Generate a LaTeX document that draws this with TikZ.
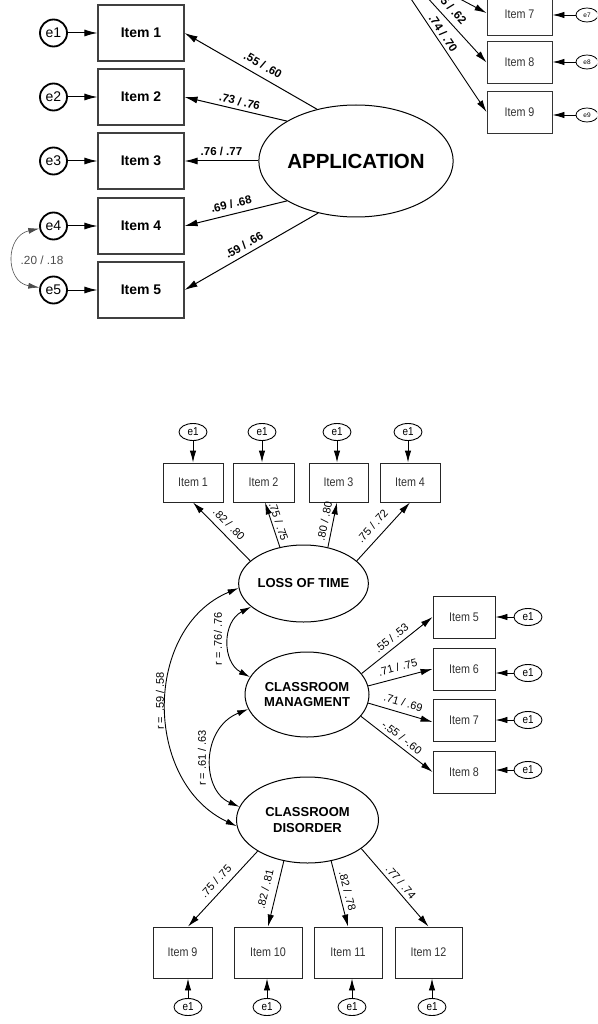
\documentclass[tikz,border=0pt]{standalone}
\usepackage{fontspec}
\setmainfont{Liberation Sans}
\newfontfamily\narrowsans[FakeStretch=0.86]{Liberation Sans}
\usetikzlibrary{arrows.meta,shapes.geometric}
\begin{document}
\begin{tikzpicture}[x=1pt,y=-1pt,
  topbox/.style={draw=black!75,line width=1.1pt,minimum width=86pt,minimum height=56pt,inner sep=0pt,font=\fontsize{14}{16}\selectfont\bfseries},
  tope/.style={draw=black,circle,line width=1.8pt,minimum size=27pt,inner sep=0pt,font=\fontsize{14}{16}\selectfont},
  toparr/.style={-{Latex[length=13pt,width=7pt]},line width=1pt},
  toplab/.style={font=\fontsize{11.5}{13}\selectfont\bfseries,inner sep=1pt,sloped},
  bigellipse/.style={draw,ellipse,line width=1pt,inner sep=0pt,minimum width=168pt,minimum height=112pt,font=\fontsize{20.5}{24}\selectfont\bfseries},
  rbox/.style={draw=black!80,line width=0.9pt,minimum width=65pt,minimum height=42pt,inner sep=0pt,text=black!80,font=\narrowsans\fontsize{12.5}{14}\selectfont},
  tinye/.style={draw,ellipse,line width=0.8pt,minimum width=22pt,minimum height=14pt,inner sep=0pt,font=\fontsize{6.5}{7}\selectfont},
  smarr/.style={-{Latex[length=12pt,width=6.5pt]},line width=0.9pt},
  ibox/.style={draw=black!85,line width=0.9pt,inner sep=0pt,text=black!80,font=\narrowsans\fontsize{12.5}{14}\selectfont},
  erre/.style={draw,ellipse,line width=0.9pt,minimum width=28pt,minimum height=17pt,inner sep=0pt,font=\narrowsans\fontsize{11.5}{13}\selectfont},
  latent/.style={draw,ellipse,line width=1pt,inner sep=0pt,align=center,font=\fontsize{13}{15.5}\selectfont\bfseries},
  lab/.style={font=\fontsize{11}{12}\selectfont,inner sep=1pt,sloped},
  cov/.style={{Latex[length=11pt,width=6pt]}-{Latex[length=11pt,width=6pt]},line width=0.9pt},
  covtop/.style={{Latex[length=11pt,width=6pt]}-{Latex[length=11pt,width=6pt]},line width=0.6pt,draw=black!70},
  covlab/.style={font=\fontsize{11}{12}\selectfont,inner sep=0pt,rotate=90},
]
\useasboundingbox (0,0) rectangle (597,1024);
\clip (0,0) rectangle (597,1024);

% ---------------- top-left : APPLICATION ----------------
\node[topbox] (ta1) at (141,33) {Item 1};
\node[topbox] (ta2) at (141,97) {Item 2};
\node[topbox] (ta3) at (141,161) {Item 3};
\node[topbox] (ta4) at (141,226) {Item 4};
\node[topbox] (ta5) at (141,290) {Item 5};
\node[tope] (ea1) at (53.5,33) {e1};
\node[tope] (ea2) at (53.5,97) {e2};
\node[tope] (ea3) at (53.5,161) {e3};
\node[tope] (ea4) at (53.5,226) {e4};
\node[tope] (ea5) at (53.5,290) {e5};
\foreach \k in {1,...,5} {\draw[toparr] (ea\k) -- (ta\k);}
\draw[covtop] (ea4.190) .. controls (5,236) and (5,282) .. (ea5.170);
\node[font=\fontsize{11.8}{13}\selectfont,text=black!70,inner sep=0pt] (c45) at (42,260) {.20 / .18};

\node[bigellipse] (app) at (356,161) {APPLICATION};
\draw[toparr] (app.127) -- node[toplab,pos=0.45,above=5.5pt] (la1) {.55 / .60} (ta1.east);
\draw[toparr] (app.150) -- node[toplab,pos=0.48,above=2.5pt] (la2) {.73 / .76} (ta2.east);
\draw[toparr] (app.west) -- node[toplab,pos=0.5,above=4pt] (la3) {.76 / .77} (ta3.east);
\draw[toparr] (app.210) -- node[toplab,pos=0.52,above=4.5pt] (la4) {.69 / .68} (ta4.east);
\draw[toparr] (app.234) -- node[toplab,pos=0.52,above=3.5pt] (la5) {.59 / .66} (ta5.east);

% ---------------- top-right fragment ----------------
\node[rbox] (ta7) at (519.5,14) {Item 7};
\node[rbox] (ta8) at (519.5,62.5) {Item 8};
\node[rbox] (ta9) at (519.5,112) {Item 9};
\node[tinye] (ea7) at (587,15) {e7};
\node[tinye] (ea8) at (587,62) {e8};
\node[tinye] (ea9) at (587,115) {e9};
\draw[smarr] (ea7.west) -- (ea7.west -| ta7.east);
\draw[smarr] (ea8.west) -- (ea8.west -| ta8.east);
\draw[smarr] (ea9.west) -- (ea9.west -| ta9.east);
\coordinate (s7) at (424,-20);
\coordinate (s8) at (393,-40);
\coordinate (s9) at (385,-40);
\draw[smarr] (s7) -- ([yshift=1pt]ta7.west);
\draw[smarr] (s8) -- node[toplab,pos=0.53,above=5pt] (la8) {.65 / .62} (ta8.west);
\draw[smarr] (s9) -- node[toplab,pos=0.51,above=2pt] (la9) {.74 / .70} (ta9.west);

% ---------------- bottom model ----------------
\node[latent,minimum width=119pt,minimum height=77pt] (lot) at (303.5,583.5) {LOSS OF TIME};
\node[latent,minimum width=124pt,minimum height=85pt] (cm) at (307,694.5) {CLASSROOM\\MANAGMENT};
\node[latent,minimum width=142pt,minimum height=86pt] (cd) at (307.5,820) {CLASSROOM\\DISORDER};

% items 1-4
\node[ibox,minimum width=60pt,minimum height=39pt] (tb1) at (193,482.5) {Item 1};
\node[ibox,minimum width=61pt,minimum height=39pt] (tb2) at (263.5,482.5) {Item 2};
\node[ibox,minimum width=59pt,minimum height=39pt] (tb3) at (338.5,482.5) {Item 3};
\node[ibox,minimum width=60pt,minimum height=39pt] (tb4) at (410,482.5) {Item 4};
\node[erre] (eb1) at (193,432) {e1};
\node[erre] (eb2) at (262,432) {e1};
\node[erre] (eb3) at (337,432) {e1};
\node[erre] (eb4) at (408,432) {e1};
\foreach \k in {1,...,4} {\draw[smarr] (eb\k.south) -- (eb\k.south |- tb\k.north);}
\draw[smarr] (lot.157) -- node[lab,pos=0.5,above=5pt] (lb1) {.82 / .80} (tb1.south);
\draw[smarr] (lot.123) -- node[lab,pos=0.52,above=1.5pt] (lb2) {.75 / .75} ([xshift=1.5pt]tb2.south);
\draw[smarr] (lot.56) -- node[lab,pos=0.55,above=3pt] (lb3) {.80 / .80} ([xshift=-1.5pt]tb3.south);
\draw[smarr] (lot.23) -- node[lab,pos=0.46,above=6.5pt] (lb4) {.75 / .72} (tb4.south);

% items 5-8
\node[ibox,minimum width=62pt,minimum height=42pt] (tb5) at (464,617) {Item 5};
\node[ibox,minimum width=62pt,minimum height=42pt] (tb6) at (464,669) {Item 6};
\node[ibox,minimum width=62pt,minimum height=42pt] (tb7) at (464,720.5) {Item 7};
\node[ibox,minimum width=62pt,minimum height=42pt] (tb8) at (464,772) {Item 8};
\node[erre] (eb5) at (528,617) {e1};
\node[erre] (eb6) at (528,673) {e1};
\node[erre] (eb7) at (528,720) {e1};
\node[erre] (eb8) at (528,770) {e1};
\foreach \k in {5,...,8} {\draw[smarr] (eb\k.west) -- (eb\k.west -| tb\k.east);}
\draw[smarr] (cm.21) -- node[lab,pos=0.5,above=3.5pt] (lb5) {.55 / .53} (tb5.west);
\draw[smarr] (cm.8) -- node[lab,pos=0.5,above=5pt] (lb6) {.71 / .75} (tb6.west);
\draw[smarr] (cm.-8) -- node[lab,pos=0.5,above=5pt] (lb7) {.71 / .69} ([yshift=-1.5pt]tb7.west);
\draw[smarr] (cm.-22) -- node[lab,pos=0.5,above=3pt] (lb8) {-.55 / -.60} (tb8.west);

% items 9-12
\node[ibox,minimum width=59pt,minimum height=51pt] (tb9) at (182.5,952.5) {Item 9};
\node[ibox,minimum width=68pt,minimum height=51pt] (tb10) at (268,952.5) {Item 10};
\node[ibox,minimum width=68pt,minimum height=51pt] (tb11) at (348,952.5) {Item 11};
\node[ibox,minimum width=67pt,minimum height=51pt] (tb12) at (428.5,952.5) {Item 12};
\node[erre] (eb9) at (188,1007) {e1};
\node[erre] (eb10) at (267,1007) {e1};
\node[erre] (eb11) at (352,1007) {e1};
\node[erre] (eb12) at (432,1007) {e1};
\foreach \k in {9,...,12} {\draw[smarr] (eb\k.north) -- (eb\k.north |- tb\k.south);}
\draw[smarr] (cd.212.6) -- node[lab,pos=0.49,above=5pt] (lb9) {.75 / .75} ([xshift=5.5pt]tb9.north);
\draw[smarr] (cd.240.6) -- node[lab,pos=0.47,above=6pt] (lb10) {.82 / .81} (tb10.north);
\draw[smarr] (cd.300.4) -- node[lab,pos=0.49,above=3pt] (lb11) {.82 / .78} (tb11.north);
\draw[smarr] (cd.332) -- node[lab,pos=0.5,above=2.5pt] (lb12) {.77 / .74} (tb12.north);

% correlations
\draw[cov] (lot.204.5) .. controls (222,622) and (222,662) .. (cm.163.7);
\draw[cov] (cm.194) .. controls (201,728) and (201,790) .. (cd.169);
\draw[cov] (lot.184) .. controls (143,628) and (143,782) .. (cd.185);
\node[covlab] (r1) at (218,639) {r = .76/ .76};
\node[covlab] (r2) at (202,758) {r = .61 / .63};
\node[covlab] (r3) at (160,701) {r =\, .59 / .58};
\end{tikzpicture}
\end{document}
